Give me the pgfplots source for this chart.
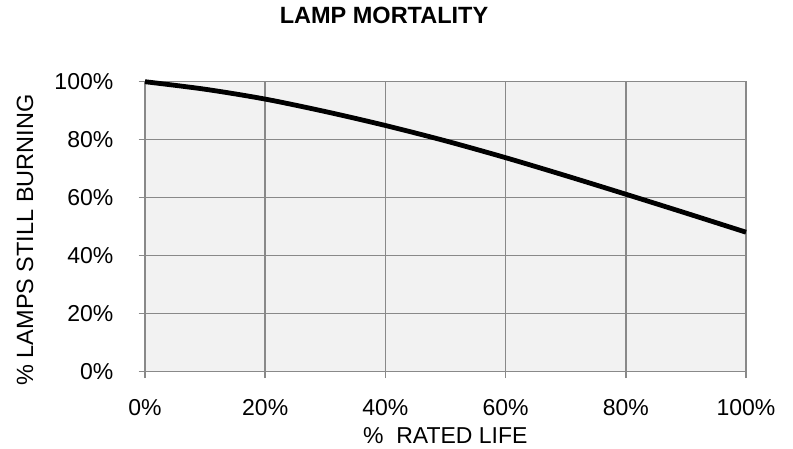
\documentclass[border=0pt]{standalone}
\usepackage{fontspec}
\setmainfont{Liberation Sans}
\usepackage{pgfplots}
\pgfplotsset{compat=1.18}
\definecolor{plotbg}{HTML}{F2F2F2}
\definecolor{gridgray}{HTML}{898989}
\begin{document}
\fontsize{23}{27}\selectfont
\begin{tikzpicture}
\begin{axis}[
  at={(145pt,76.3pt)}, anchor=south west,
  scale only axis, width=601pt, height=290pt,
  xmin=0, xmax=100, ymin=0, ymax=100,
  axis background/.style={fill=plotbg},
  axis line style={gridgray, line width=1.5pt},
  grid=major,
  major grid style={gridgray, line width=1.5pt},
  xtick={0,20,40,60,80,100},
  ytick={0,20,40,60,80,100},
  xticklabels={0\%,20\%,40\%,60\%,80\%,100\%},
  yticklabels={0\%,20\%,40\%,60\%,80\%,100\%},
  xtick pos=bottom, ytick pos=left,
  tick align=outside,
  major tick length=6.5pt,
  tick style={gridgray, line width=1.5pt},
  xticklabel style={anchor=north, inner sep=0pt, yshift=-21.3pt, font=\fontsize{23}{27}\selectfont},
  yticklabel style={anchor=east, inner sep=0pt, xshift=-25pt, font=\fontsize{23}{27}\selectfont},
  clip=false,
  title={LAMP MORTALITY},
  title style={at={(axis description cs:0.3977,1.209)}, anchor=center, inner sep=0pt, font=\fontsize{23.5}{28}\selectfont\bfseries},
  xlabel={\%\ \ RATED LIFE},
  xlabel style={at={(axis description cs:0.4997,-0.2207)}, anchor=center, inner sep=0pt, font=\fontsize{23}{27}\selectfont},
  ylabel={\% LAMPS STILL BURNING},
  ylabel style={at={(axis description cs:-0.1997,0.454)}, anchor=center, inner sep=0pt, font=\fontsize{23.5}{28}\selectfont},
]
\addplot[black, line width=4.8pt, smooth] coordinates {
  (0,100) (10,97.4) (20,94.0) (30,89.7) (40,84.9) (50,79.6)
  (60,73.8) (70,67.6) (80,61.2) (90,54.7) (100,48.1)
};
\end{axis}
\pgfresetboundingbox
\useasboundingbox (0,0) rectangle (793pt,448pt);
\end{tikzpicture}
\end{document}
